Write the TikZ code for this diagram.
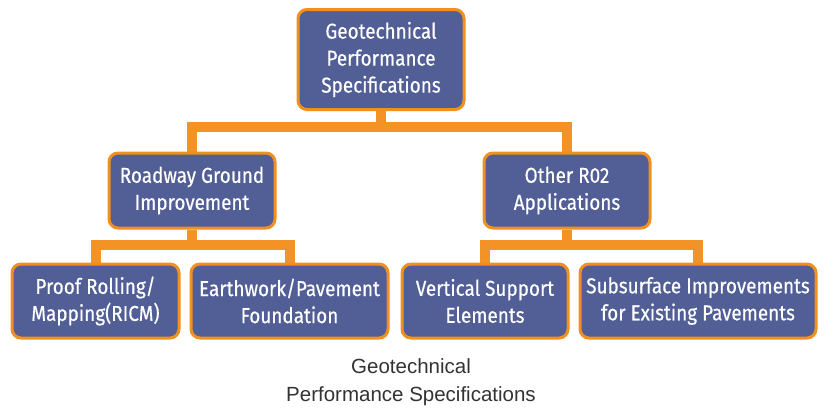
\documentclass[tikz,border=0pt]{standalone}
\usepackage{fontspec}
\setmainfont{Liberation Sans}
\newfontfamily\boxfont[FakeStretch=0.88,FakeBold=0.4]{Fira Sans}
\usetikzlibrary{backgrounds}
\definecolor{boxblue}{HTML}{525E96}
\definecolor{edgeorange}{HTML}{F0901E}
\definecolor{lineorange}{HTML}{F39325}
\definecolor{captiongray}{HTML}{333333}
\tikzset{
  orgbox/.style={draw=edgeorange, line width=3pt, fill=boxblue, rounded corners=9pt,
    text=white, align=center, font=\boxfont\fontsize{21.5}{27}\selectfont, inner sep=0pt},
  conn/.style={draw=lineorange, line width=10pt},
  caption/.style={text=captiongray, font=\fontsize{20.5}{28}\selectfont, align=center}
}
\begin{document}
\begin{tikzpicture}[x=1pt,y=-1pt]
\useasboundingbox (0,0) rectangle (825,410);
\node[orgbox, minimum width=166pt, minimum height=100pt] (top) at (381,59.5) {Geotechnical\\Performance\\Specifications};
\node[orgbox, minimum width=166pt, minimum height=75pt] (lm) at (192,190.5) {Roadway Ground\\Improvement};
\node[orgbox, minimum width=166pt, minimum height=75pt] (rm) at (567,190.5) {Other R02\\Applications};
\node[orgbox, minimum width=167pt, minimum height=74pt] (b1) at (95.5,301) {Proof Rolling/\\Mapping(RICM)};
\node[orgbox, minimum width=197pt, minimum height=74pt] (b2) at (289.5,301) {Earthwork/Pavement\\Foundation};
\node[orgbox, minimum width=166pt, minimum height=74pt] (b3) at (485,301) {Vertical Support\\Elements};
\node[orgbox, minimum width=236pt, minimum height=74pt] (b4) at (698,301) {Subsurface Improvements\\for Existing Pavements};
\coordinate (bar1) at (381,127);
\coordinate (barL) at (192,245);
\coordinate (barR) at (567,245);
\begin{scope}[on background layer]
\draw[conn] (top.south) -- (bar1);
\draw[conn] (lm.north) -- (lm.north |- bar1) -- (rm.north |- bar1) -- (rm.north);
\draw[conn] (lm.south) -- (barL);
\draw[conn] (b1.north) -- (b1.north |- barL) -- (b2.north |- barL) -- (b2.north);
\draw[conn] (rm.south) -- (barR);
\draw[conn] (b3.north) -- (b3.north |- barR) -- (b4.north |- barR) -- (b4.north);
\end{scope}
\node[caption] (cap) at (411,382) {Geotechnical\\Performance Specifications};
\end{tikzpicture}
\end{document}
